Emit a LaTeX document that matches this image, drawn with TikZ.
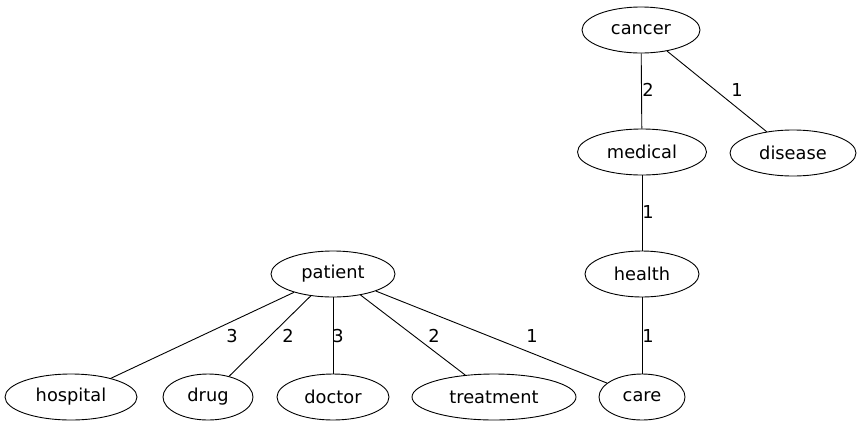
\documentclass[tikz,border=0pt]{standalone}
\usepackage{fontspec}
\setmainfont{DejaVu Sans}
\usetikzlibrary{shapes.geometric}
\begin{document}
\begin{tikzpicture}[x=1pt,y=-1pt,
  nd/.style={draw,ellipse,inner sep=0pt,minimum height=46pt,line width=0.9pt,font=\fontsize{17.8pt}{20pt}\selectfont},
  lbl/.style={font=\fontsize{17.8pt}{20pt}\selectfont,inner sep=0pt},
  ed/.style={line width=0.9pt}]
\useasboundingbox (0,0) rectangle (861,429);
\node[nd,minimum width=118pt] (cancer) at (641,30) {cancer};
\node[nd,minimum width=129pt] (medical) at (642,152) {medical};
\node[nd,minimum width=126pt] (disease) at (793,153) {disease};
\node[nd,minimum width=114pt] (health) at (642,274) {health};
\node[nd,minimum width=124pt] (patient) at (333,274) {patient};
\node[nd,minimum width=132pt] (hospital) at (71,397) {hospital};
\node[nd,minimum width=90pt] (drug) at (208,397) {drug};
\node[nd,minimum width=112pt] (doctor) at (333,397) {doctor};
\node[nd,minimum width=164pt] (treatment) at (494,397) {treatment};
\node[nd,minimum width=86pt] (care) at (642,397) {care};
\draw[ed] (cancer) -- (medical);
\draw[ed] (cancer) -- (disease);
\draw[ed] (medical) -- (health);
\draw[ed] (health) -- (care);
\draw[ed] (patient) -- (hospital);
\draw[ed] (patient) -- (drug);
\draw[ed] (patient) -- (doctor);
\draw[ed] (patient) -- (treatment);
\draw[ed] (patient) -- (care);
\node[lbl] (l1) at (648,90) {2};
\node[lbl] (l2) at (737,90) {1};
\node[lbl] (l3) at (648,212) {1};
\node[lbl] (l4) at (648,336) {1};
\node[lbl] (l5) at (232,336) {3};
\node[lbl] (l6) at (288,336) {2};
\node[lbl] (l7) at (338,336) {3};
\node[lbl] (l8) at (434,336) {2};
\node[lbl] (l9) at (532,336) {1};
\end{tikzpicture}
\end{document}
